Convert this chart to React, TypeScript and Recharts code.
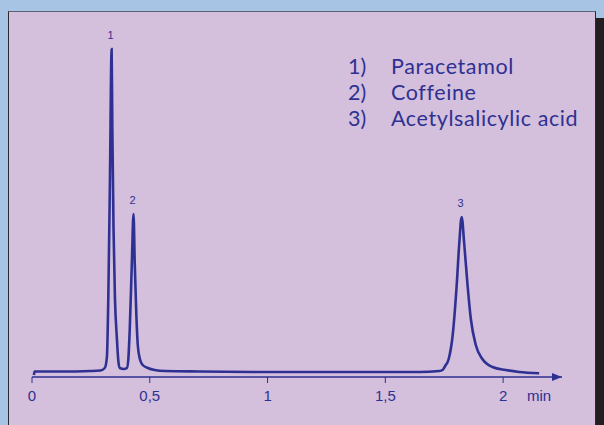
import { LineChart, Line, XAxis, YAxis, ReferenceDot } from "recharts";

// retention time (min) and detector signal
const times = [
  0.008, 0.011, 0.12, 0.25, 0.29, 0.309, 0.318, 0.324, 0.331, 0.338, 0.341, 0.346,
  0.352, 0.36, 0.367, 0.373, 0.39, 0.403, 0.409, 0.415, 0.424, 0.431, 0.436, 0.443,
  0.449, 0.458, 0.47, 0.492, 0.521, 0.564, 0.712, 1.0, 1.347, 1.644, 1.729, 1.743,
  1.754, 1.769, 1.786, 1.803, 1.814, 1.824, 1.835, 1.849, 1.863, 1.884, 1.912,
  1.955, 2.011, 2.068, 2.153,
];
const signal = [
  2, 5.5, 5.5, 6, 6.5, 9, 20, 80, 200, 328, 250, 150,
  80, 40, 15, 9, 8, 9, 18, 48, 115, 163, 115, 62,
  32, 18, 12, 9, 7, 6, 5.5, 5, 5, 5, 6, 7,
  11, 18, 42, 92, 134, 160, 133, 92, 58, 32, 18,
  10, 7, 5, 3.7,
];

const peakLabels = ["1", "2", "3"];
const peakTimes = [0.338, 0.431, 1.824];
const peakHeights = [328, 163, 160];

const xTicks = [0, 0.5, 1, 1.5, 2];

const legendNums = ["1)", "2)", "3)"];
const legendNames = ["Paracetamol", "Coffeine", "Acetylsalicylic acid"];

const data = times.map((t, i) => ({ t, v: signal[i] }));

const BLUE = "#2e3192";

function Arrow(props: { cx?: number; cy?: number }) {
  const { cx = 0, cy = 0 } = props;
  return (
    <polygon
      points={`${cx - 10},${cy - 4} ${cx},${cy} ${cx - 10},${cy + 4}`}
      fill={BLUE}
    />
  );
}

function MinLabel(props: { viewBox?: { x: number; y: number; width: number } }) {
  const vb = props.viewBox ?? { x: 0, y: 0, width: 0 };
  return (
    <text
      x={vb.x + vb.width - 35}
      y={vb.y + 24}
      fill={BLUE}
      fontSize={15}
      fontFamily="'Liberation Sans', Arial, sans-serif"
    >
      min
    </text>
  );
}

export default function App() {
  return (
    <div
      style={{
        position: "fixed",
        left: 0,
        top: 0,
        width: 604,
        height: 425,
        background: "#a8c4e4",
        overflow: "hidden",
      }}
    >
      <div
        style={{
          position: "absolute",
          left: 595,
          top: 18,
          width: 9,
          height: 407,
          background: "#231f20",
        }}
      />
      <div
        style={{
          position: "absolute",
          left: 8,
          top: 11,
          width: 586,
          height: 414,
          background: "#d4bfdc",
          borderTop: "1px solid #5b6275",
          borderLeft: "1px solid #2a2a2a",
          borderRight: "1px solid #2a2a2a",
        }}
      />
      <div style={{ position: "absolute", left: 0, top: 0 }}>
        <LineChart
          width={604}
          height={425}
          data={data}
          margin={{ top: 37, right: 42, left: 32, bottom: 18 }}
        >
          <XAxis
            dataKey="t"
            type="number"
            domain={[0, 2.25]}
            ticks={xTicks}
            allowDataOverflow
            height={30}
            axisLine={{ stroke: BLUE, strokeWidth: 1.5 }}
            tickLine={{ stroke: BLUE, strokeWidth: 1 }}
            tickSize={6}
            tickMargin={7}
            tick={{ fill: BLUE, fontSize: 15, fontFamily: "'Liberation Sans', Arial, sans-serif" }}
            tickFormatter={(v: number) => String(v).replace(".", ",")}
            label={<MinLabel />}
          />
          <YAxis hide type="number" domain={[0, 340]} allowDataOverflow />
          <Line
            type="monotone"
            dataKey="v"
            stroke={BLUE}
            strokeWidth={2.6}
            dot={false}
            isAnimationActive={false}
          />
          {peakTimes.map((t, i) => (
            <ReferenceDot
              key={peakLabels[i]}
              x={t}
              y={peakHeights[i]}
              r={0}
              ifOverflow="visible"
              shape={(p: { cx?: number; cy?: number }) => (
                <text
                  x={(p.cx ?? 0) - 1}
                  y={(p.cy ?? 0) - 10}
                  textAnchor="middle"
                  fill={BLUE}
                  fontSize={11}
                  fontFamily="'Liberation Sans', Arial, sans-serif"
                >
                  {peakLabels[i]}
                </text>
              )}
            />
          ))}
          <ReferenceDot x={2.25} y={0} r={0} ifOverflow="visible" shape={<Arrow />} />
        </LineChart>
      </div>
      <svg
        width={604}
        height={425}
        style={{ position: "absolute", left: 0, top: 0, pointerEvents: "none" }}
      >
        {legendNames.map((name, i) => (
          <g key={name} fill={BLUE} fontSize={21.5} fontFamily="Lato, sans-serif">
            <text x={348} y={74 + i * 26}>
              {legendNums[i]}
            </text>
            <text x={391} y={74 + i * 26} letterSpacing={0.6}>
              {name}
            </text>
          </g>
        ))}
      </svg>
    </div>
  );
}
